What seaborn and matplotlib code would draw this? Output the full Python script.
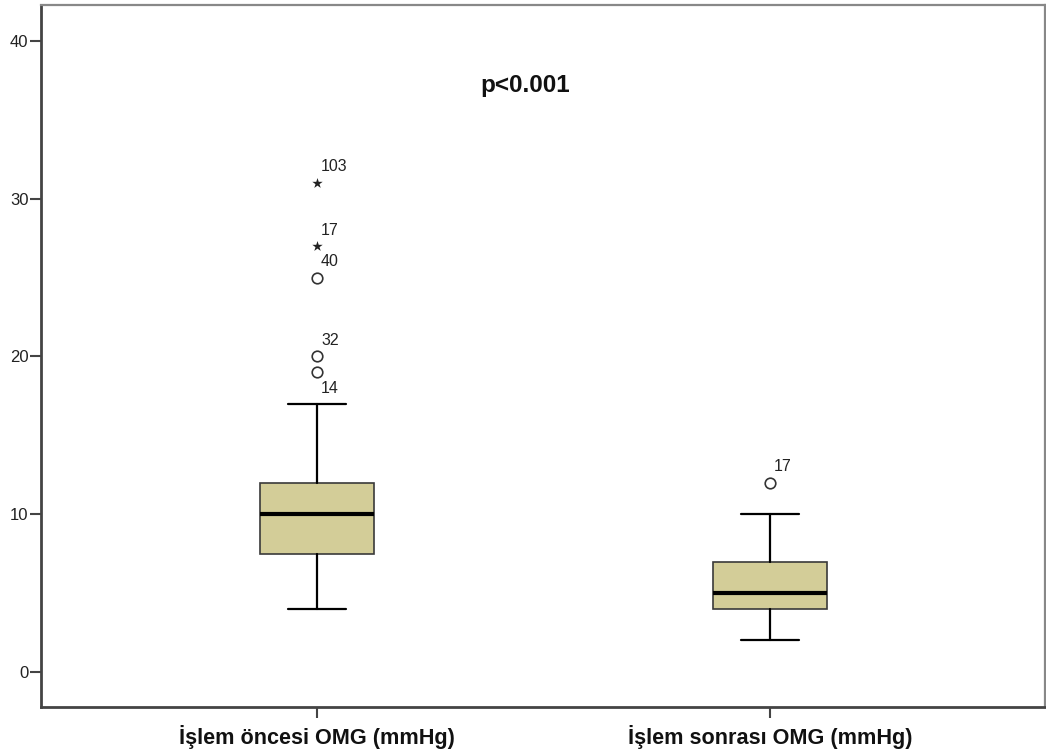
import matplotlib
matplotlib.use("Agg")
import matplotlib.pyplot as plt
import seaborn as sns

# Five-number summaries for each measurement
categories = ["İşlem öncesi OMG (mmHg)", "İşlem sonrası OMG (mmHg)"]
whisker_low = [4, 2]
q1 = [7.5, 4]
median = [10, 5]
q3 = [12, 7]
whisker_high = [17, 10]

# Outlying cases: group index, value, kind (mild = circle, extreme = star), case id
out_group = [0, 0, 0, 0, 0, 1]
out_value = [19, 20, 25, 27, 31, 12]
out_kind = ["mild", "mild", "mild", "extreme", "extreme", "mild"]
out_case = ["14", "32", "40", "17", "103", "17"]
out_label_below = [True, False, False, False, False, False]

p_text = "p<0.001"

sns.set_style("white")
plt.rcParams["font.family"] = ["Liberation Sans", "DejaVu Sans"]

fig = plt.figure(figsize=(10.46, 7.51), dpi=100)
ax = fig.add_axes([41 / 1046, 1 - 707 / 751, 1004 / 1046, 702 / 751])

positions = list(range(len(categories)))
stats = [
    dict(whislo=whisker_low[i], q1=q1[i], med=median[i], q3=q3[i],
         whishi=whisker_high[i], fliers=[], label=categories[i])
    for i in positions
]

box_color = "#D3CD98"
ax.bxp(
    stats,
    positions=positions,
    widths=0.252,
    capwidths=0.128,
    patch_artist=True,
    showfliers=False,
    boxprops=dict(facecolor=box_color, edgecolor="#3a3a3a", linewidth=1.2),
    medianprops=dict(color="black", linewidth=3.0, solid_capstyle="butt"),
    whiskerprops=dict(color="black", linewidth=1.6),
    capprops=dict(color="black", linewidth=1.6),
)

# Outlier markers and case labels
for g, v, k, c, below in zip(out_group, out_value, out_kind, out_case, out_label_below):
    if k == "mild":
        ax.scatter([g], [v], marker="o", s=58, facecolors="white",
                   edgecolors="#333333", linewidths=1.2, zorder=4)
    else:
        ax.scatter([g], [v], marker="*", s=62, color="#222222",
                   linewidths=0, zorder=4)
    dy = -11.5 if below else 11.5
    ax.annotate(c, xy=(g, v), xytext=(3, dy), textcoords="offset points",
                ha="left", va="center", fontsize=11.5, color="#222222")

ax.text(0.4605, 37.2, p_text, ha="center", va="center",
        fontsize=17.5, fontweight="bold", color="#111111")

ax.set_xlim(-0.609, 1.607)
ax.set_ylim(-2.22, 42.28)
ax.set_yticks([0, 10, 20, 30, 40])
ax.set_xticks(positions)
ax.set_xticklabels(categories, fontsize=15.6, fontweight="bold", color="#111111")
ax.tick_params(axis="y", labelsize=12, labelcolor="#222222", length=8,
               width=1.5, color="#444444", pad=1, direction="out", left=True)
ax.tick_params(axis="x", length=8, width=1.5, color="#444444", pad=5,
               direction="out", bottom=True)

for side in ["left", "bottom"]:
    ax.spines[side].set_color("#444444")
    ax.spines[side].set_linewidth(2.0)
for side in ["top", "right"]:
    ax.spines[side].set_visible(True)
    ax.spines[side].set_color("#888888")
    ax.spines[side].set_linewidth(1.6)

ax.grid(False)
fig.savefig("out.png", dpi=100)
